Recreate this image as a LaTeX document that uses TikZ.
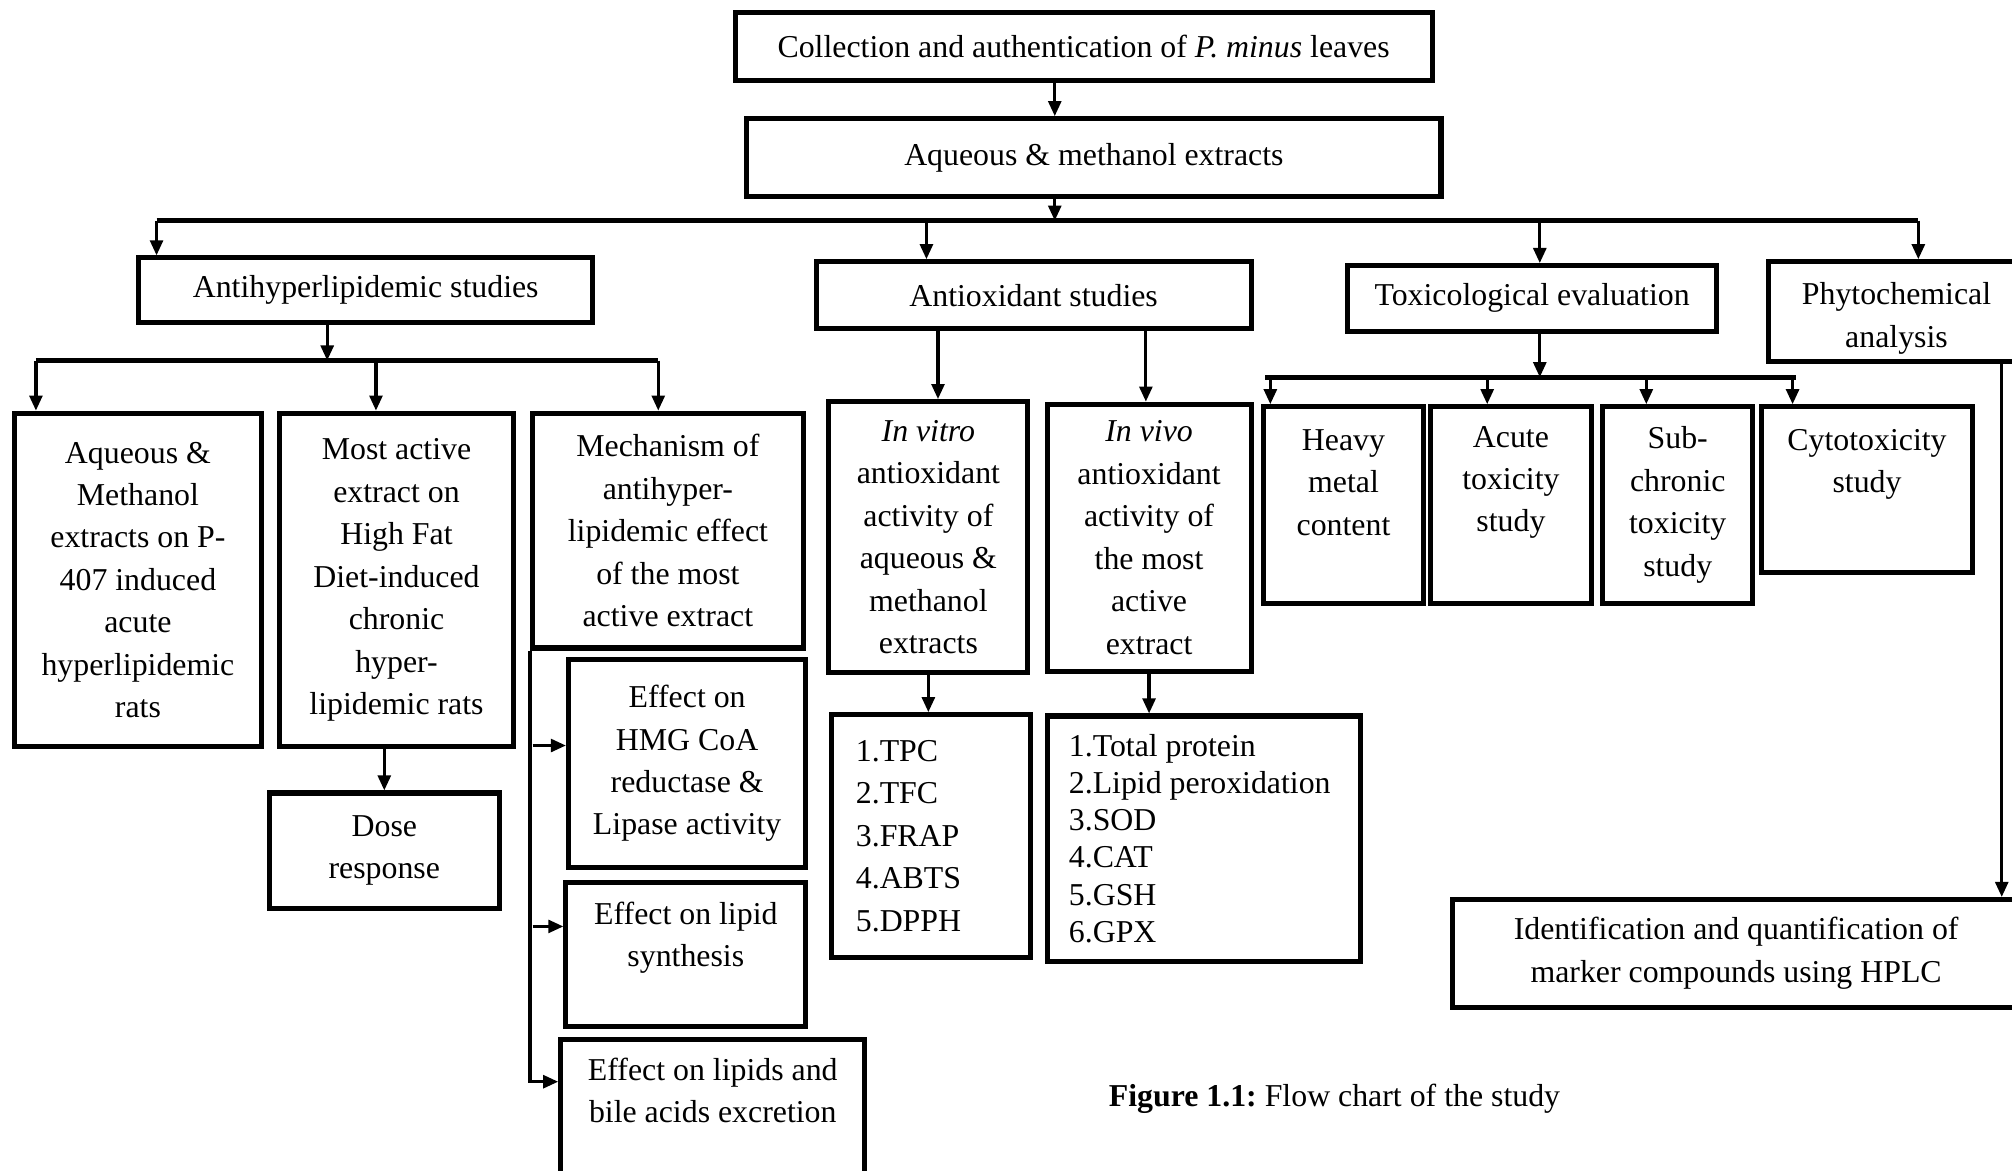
\documentclass[tikz,border=0pt]{standalone}
\usepackage{fontspec}
\setmainfont{Liberation Serif}
\usetikzlibrary{arrows.meta}

\begin{document}
\frenchspacing
\begin{tikzpicture}[x=0.017cm, y=-0.017cm,
    box/.style 2 args={draw, line width=1.9pt, align=center, inner sep=0pt,
      minimum width=#1*0.017cm, minimum height=#2*0.017cm,
      font=\fontsize{12}{16}\selectfont},
    txt/.style={align=center, inner sep=0pt, font=\fontsize{12}{16}\selectfont},
    arr/.style={-{Triangle[length=2mm, width=1.7mm]}, line width=1.2pt},
    bus/.style={line width=1.9pt}]
    % Fix the page
    \useasboundingbox (0,0) rectangle (1568,912);
    \fill[white] (0,0) rectangle (1568,912);

    % Top of the chart
    \node[box={543}{53}] (collect) at (844.5,36.5) {Collection and authentication of \textit{P. minus} leaves};
    \node[box={541}{61}] (extracts) at (852.5,123) {Aqueous \& methanol extracts};

    % The four study blocks
    \node[box={354}{50}] (antihyper) at (285,226) {Antihyperlipidemic studies};
    \node[box={339}{52}] (antiox) at (805.5,230) {Antioxidant studies};
    \node[box={288}{51}] (tox) at (1194,232.5) {Toxicological evaluation};
    \node[box={200}{78}] (phyto) at (1478,243) {};
    \node[txt] (phytotxt) at (1478,248) {Phytochemical\\analysis};

    % Antihyperlipidemic branch
    \node[box={193}{260}] (acute) at (107.5,452) {Aqueous \&\\Methanol\\extracts on P-\\407 induced\\acute\\hyperlipidemic\\rats};
    \node[box={182}{260}] (chronic) at (309,452) {Most active\\extract on\\High Fat\\Diet-induced\\chronic\\hyper-\\lipidemic rats};
    \node[box={211}{183}] (mech) at (520.5,413.5) {Mechanism of\\antihyper-\\lipidemic effect\\of the most\\active extract};
    \node[box={179}{90}] (dose) at (299.5,663) {Dose\\response};
    \node[box={185}{162}] (hmg) at (535.5,595) {Effect on\\HMG CoA\\reductase \&\\Lipase activity};
    \node[box={187}{112}] (synth) at (534.5,744) {};
    \node[txt] (synthtxt) at (534.5,731) {Effect on lipid\\synthesis};
    \node[box={237}{115}] (excr) at (555.5,867.5) {};
    \node[txt] (excrtxt) at (555.5,850) {Effect on lipids and\\bile acids excretion};

    % Antioxidant branch
    \node[box={155}{211}] (invitro) at (723.5,418.5) {\textit{In vitro}\\antioxidant\\activity of\\aqueous \&\\methanol\\extracts};
    \node[box={159}{208}] (invivo) at (895.5,419) {\textit{In vivo}\\antioxidant\\activity of\\the most\\active\\extract};
    \node[box={155}{189}, align=flush left, text width=117*0.017cm, inner xsep=19*0.017cm] (vitrolist) at (725.5,651.5)
      {1.TPC\\2.TFC\\3.FRAP\\4.ABTS\\5.DPPH};
    \node[box={244}{191}, align=flush left, text width=210*0.017cm, inner xsep=17*0.017cm,
      font=\fontsize{12}{14}\selectfont] (vivolist) at (938,653.5)
      {1.Total protein\\2.Lipid peroxidation\\3.SOD\\4.CAT\\5.GSH\\6.GPX};

    % Toxicological branch
    \node[box={124}{153}] (heavy) at (1047,393.5) {};
    \node[txt] (heavytxt) at (1047,376) {Heavy\\metal\\content};
    \node[box={125}{153}] (acutetox) at (1177.5,393.5) {};
    \node[txt] (acutetxt) at (1177.5,376) {Acute\\toxicity\\study};
    \node[box={117}{153}] (subchr) at (1307.5,393.5) {Sub-\\chronic\\toxicity\\study};
    \node[box={164}{129}] (cyto) at (1455,381.5) {};
    \node[txt] (cytotxt) at (1455,362) {Cytotoxicity\\study};

    % Phytochemical branch
    \node[box={442}{84}] (hplc) at (1353,743) {Identification and quantification of\\marker compounds using HPLC};

    % Caption
    \node[txt] (caption) at (1040,856) {\textbf{Figure 1.1:} Flow chart of the study};

    % Main spine and bus
    \coordinate (spine) at (822,172);
    \coordinate (busL) at (122,172);
    \coordinate (busR) at (1495,172);
    \coordinate (busO) at (722,172);
    \coordinate (busT) at (1200,172);
    \draw[arr] (collect.south -| spine) -- (extracts.north -| spine);
    \draw[arr] (extracts.south -| spine) -- (spine);
    \draw[bus] (busL) -- (busR);
    \draw[arr] (busL) -- (busL |- antihyper.north);
    \draw[arr] (busO) -- (busO |- antiox.north);
    \draw[arr] (busT) -- (busT |- tox.north);
    \draw[arr] (busR) -- (busR |- phyto.north);

    % Antihyperlipidemic connectors
    \coordinate (hjoin) at (255,281);
    \coordinate (hL) at (28,281);
    \coordinate (hM) at (293,281);
    \coordinate (hR) at (513,281);
    \draw[arr] (antihyper.south -| hjoin) -- (hjoin);
    \draw[bus] (hL) -- (hR);
    \draw[arr] (hL) -- (hL |- acute.north);
    \draw[arr] (hM) -- (hM |- chronic.north);
    \draw[arr] (hR) -- (hR |- mech.north);
    \draw[arr] (chronic.south -| dose.north) -- (dose.north);
    \coordinate (m1) at (415,581);
    \coordinate (m2) at (415,722);
    \coordinate (m3) at (415,843);
    \draw[arr] (mech.south west) |- (m3 -| excr.west);
    \draw[arr] (m1) -- (m1 -| hmg.west);
    \draw[arr] (m2) -- (m2 -| synth.west);

    % Antioxidant connectors
    \coordinate (ao1) at (731,0);
    \coordinate (ao2) at (893,0);
    \draw[arr] (antiox.south -| ao1) -- (invitro.north -| ao1);
    \draw[arr] (antiox.south -| ao2) -- (invivo.north -| ao2);
    \draw[arr] (invitro.south) -- (invitro.south |- vitrolist.north);
    \draw[arr] (invivo.south) -- (invivo.south |- vivolist.north);

    % Toxicological connectors
    \coordinate (tjoin) at (1200,294);
    \coordinate (tL) at (986,294);
    \coordinate (tR) at (1400,294);
    \coordinate (t1) at (990,294);
    \coordinate (t2) at (1159,294);
    \coordinate (t3) at (1283,294);
    \coordinate (t4) at (1397,294);
    \draw[arr] (tox.south -| tjoin) -- (tjoin);
    \draw[bus] (tL) -- (tR);
    \draw[arr] (t1) -- (t1 |- heavy.north);
    \draw[arr] (t2) -- (t2 |- acutetox.north);
    \draw[arr] (t3) -- (t3 |- subchr.north);
    \draw[arr] (t4) -- (t4 |- cyto.north);

    % Phytochemical connector
    \coordinate (pdrop) at (1560,0);
    \draw[arr] (phyto.south -| pdrop) -- (hplc.north -| pdrop);
\end{tikzpicture}
\end{document}
